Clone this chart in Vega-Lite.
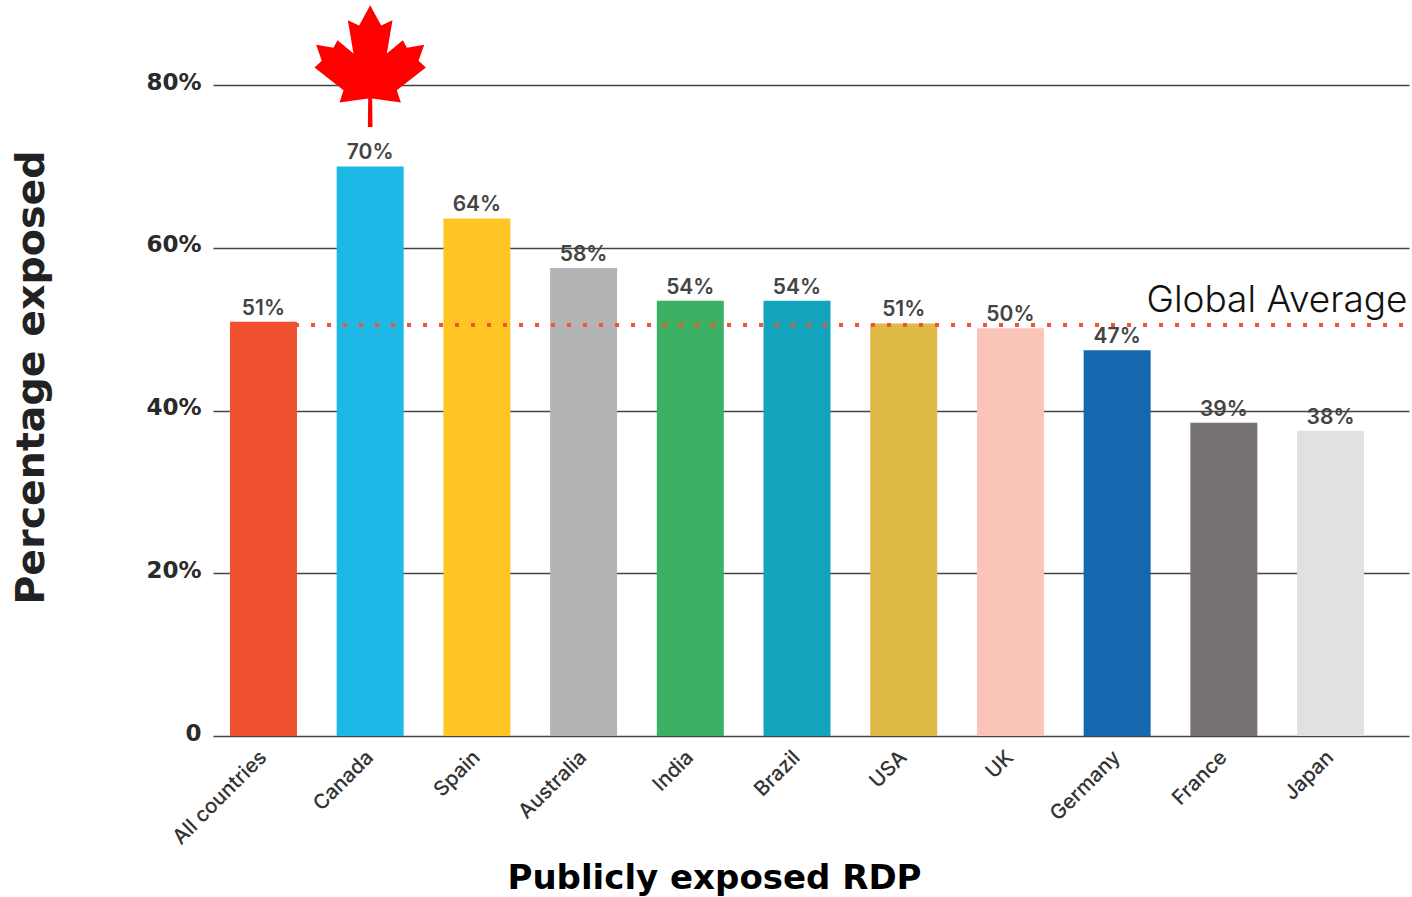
{
  "$schema": "https://vega.github.io/schema/vega-lite/v6.json",
  "width": 1196,
  "height": 651,
  "autosize": {"type": "none"},
  "padding": {"left": 213, "top": 85, "right": 3, "bottom": 161},
  "background": "white",
  "config": {"view": {"stroke": null}},
  "datasets": {
    "rdp": [
      {"country": "All countries", "value": 50.9, "label": "51%"},
      {"country": "Canada", "value": 70, "label": "70%"},
      {"country": "Spain", "value": 63.6, "label": "64%"},
      {"country": "Australia", "value": 57.5, "label": "58%"},
      {"country": "India", "value": 53.5, "label": "54%"},
      {"country": "Brazil", "value": 53.5, "label": "54%"},
      {"country": "USA", "value": 50.7, "label": "51%"},
      {"country": "UK", "value": 50.1, "label": "50%"},
      {"country": "Germany", "value": 47.4, "label": "47%"},
      {"country": "France", "value": 38.5, "label": "39%"},
      {"country": "Japan", "value": 37.5, "label": "38%"}
    ]
  },
  "encoding": {
    "x": {
      "field": "country",
      "type": "nominal",
      "sort": null,
      "title": "Publicly exposed RDP",
      "scale": {"paddingInner": 0.372, "paddingOuter": 0.29, "align": 0.274},
      "axis": {
        "domain": false,
        "ticks": false,
        "labelAngle": -45,
        "labelAlign": "right",
        "labelBaseline": "middle",
        "labelPadding": 18,
        "labelFont": "Inter",
        "labelFontSize": 20.5,
        "labelFontWeight": 500,
        "labelColor": "#333333",
        "titleFont": "DejaVu Sans",
        "titleFontSize": 34,
        "titleFontWeight": 700,
        "titleColor": "#000000",
        "titleX": 501,
        "titleY": 152,
        "titleAnchor": "middle",
        "titleBaseline": "alphabetic"
      }
    }
  },
  "layer": [
    {
      "mark": {"type": "bar"},
      "encoding": {
        "y": {
          "field": "value",
          "type": "quantitative",
          "title": "Percentage exposed",
          "scale": {"domain": [0, 80], "nice": false, "range": [651, 0]},
          "axis": {
            "values": [0, 20, 40, 60, 80],
            "labelExpr": "datum.value == 0 ? '0' : datum.value + '%'",
            "domain": false,
            "ticks": false,
            "grid": true,
            "gridColor": "#444444",
            "gridWidth": 1.5,
            "labelFont": "DejaVu Sans",
            "labelFontSize": 23,
            "labelFontWeight": 700,
            "labelColor": "#2A2A2A",
            "labelPadding": 12,
            "labelOffset": -3,
            "titleFont": "DejaVu Sans",
            "titleFontSize": 39.5,
            "titleFontWeight": 700,
            "titleColor": "#222222",
            "titleX": -170,
            "titleY": 292,
            "titleAngle": -90,
            "titleAnchor": "middle",
            "titleBaseline": "alphabetic"
          }
        },
        "color": {
          "field": "country",
          "type": "nominal",
          "sort": null,
          "legend": null,
          "scale": {
            "range": ["#EE5030", "#1EB8E6", "#FEC525", "#B3B4B6", "#3DB163", "#12A4BC", "#DFB946", "#FBC4B8", "#1568B0", "#767271", "#E0E1E3"]
          }
        }
      }
    },
    {
      "mark": {"type": "text", "baseline": "alphabetic", "dy": -7, "font": "Inter", "fontSize": 21, "fontWeight": 600, "color": "#444444"},
      "encoding": {
        "y": {"field": "value", "type": "quantitative"},
        "text": {"field": "label"}
      }
    },
    {
      "data": {"values": [{"average": 50.5}]},
      "mark": {"type": "rule", "stroke": "#F4532D", "strokeWidth": 4, "strokeDash": [4, 12], "x": 18, "x2": 1192},
      "encoding": {
        "x": null,
        "y": {"field": "average", "type": "quantitative"}
      }
    },
    {
      "data": {"values": [{"country": "Japan", "level": 52.1, "label": "Global Average"}]},
      "mark": {"type": "text", "align": "right", "baseline": "alphabetic", "dx": 77, "font": "Inter", "fontSize": 37, "fontWeight": 300, "color": "#111111"},
      "encoding": {
        "y": {"field": "level", "type": "quantitative"},
        "text": {"field": "label"}
      }
    },
    {
      "data": {"values": [{"country": "Canada", "level": 82.33}]},
      "mark": {
        "type": "point",
        "filled": true,
        "color": "#FF0000",
        "opacity": 1,
        "size": 14811,
        "clip": false,
        "shape": "M0,-1L.181,-.666L.367,-.753L.274,-.205L.537,-.425L.603,-.299L.888,-.348L.795,-.085L.915,.025L.438,.397L.504,.6L.033,.534L.038,1L-.038,1L-.033,.534L-.504,.6L-.438,.397L-.915,.025L-.795,-.085L-.888,-.348L-.603,-.299L-.537,-.425L-.274,-.205L-.367,-.753L-.181,-.666Z"
      },
      "encoding": {
        "y": {"field": "level", "type": "quantitative"}
      }
    }
  ],
  "data": {"name": "rdp"}
}
